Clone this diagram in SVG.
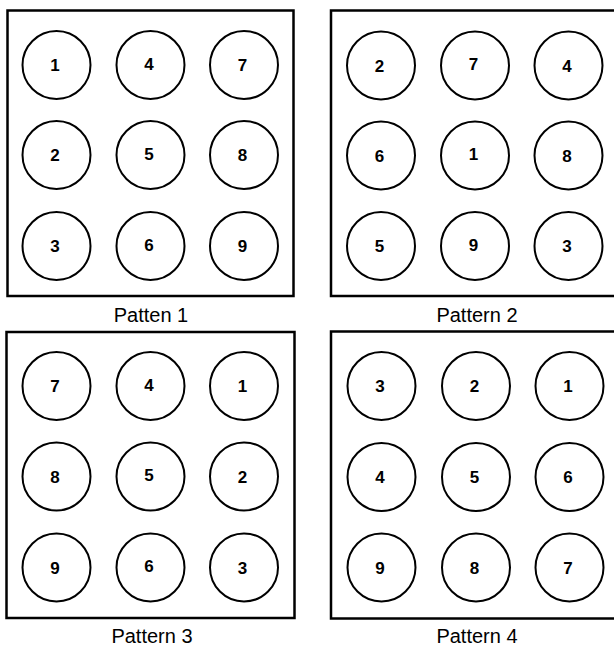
<svg xmlns="http://www.w3.org/2000/svg" width="614" height="646" viewBox="0 0 614 646">
<style>
.box{fill:none;stroke:#000;stroke-width:2.5}
.c{fill:#fff;stroke:#000;stroke-width:2}
.n{font-family:"Liberation Sans",Arial,sans-serif;font-weight:bold;font-size:17px;text-anchor:middle;fill:#000}
.lbl{font-family:"Liberation Sans",Arial,sans-serif;font-size:20px;text-anchor:middle;fill:#000}
</style>
<rect width="614" height="646" fill="#fff"/>
<g id="panel1">
<rect class="box" x="7.5" y="10.5" width="286" height="285.5"/>
<g id="p1-n1"><circle class="c" cx="56.5" cy="65" r="34"/><text class="n" x="55" y="71">1</text></g>
<g id="p1-n4"><circle class="c" cx="150.5" cy="65" r="34"/><text class="n" x="149" y="69.5">4</text></g>
<g id="p1-n7"><circle class="c" cx="244" cy="65" r="34"/><text class="n" x="242.5" y="71">7</text></g>
<g id="p1-n2"><circle class="c" cx="56.5" cy="155" r="34"/><text class="n" x="55" y="161">2</text></g>
<g id="p1-n5"><circle class="c" cx="150.5" cy="155" r="34"/><text class="n" x="149" y="159.5">5</text></g>
<g id="p1-n8"><circle class="c" cx="244" cy="155" r="34"/><text class="n" x="242.5" y="161">8</text></g>
<g id="p1-n3"><circle class="c" cx="56.5" cy="246" r="34"/><text class="n" x="55" y="252">3</text></g>
<g id="p1-n6"><circle class="c" cx="150.5" cy="246" r="34"/><text class="n" x="149" y="250.5">6</text></g>
<g id="p1-n9"><circle class="c" cx="244" cy="246" r="34"/><text class="n" x="242.5" y="252">9</text></g>
<text class="lbl" x="151" y="322">Patten 1</text>
</g>
<g id="panel2">
<rect class="box" x="331" y="10.5" width="290" height="285.5"/>
<g id="p2-n2"><circle class="c" cx="381" cy="65.5" r="34"/><text class="n" x="379.5" y="71.5">2</text></g>
<g id="p2-n7"><circle class="c" cx="475" cy="65.5" r="34"/><text class="n" x="473.5" y="70">7</text></g>
<g id="p2-n4"><circle class="c" cx="568.5" cy="65.5" r="34"/><text class="n" x="567" y="71.5">4</text></g>
<g id="p2-n6"><circle class="c" cx="381" cy="155.5" r="34"/><text class="n" x="379.5" y="161.5">6</text></g>
<g id="p2-n1"><circle class="c" cx="475" cy="155.5" r="34"/><text class="n" x="473.5" y="160">1</text></g>
<g id="p2-n8"><circle class="c" cx="568.5" cy="155.5" r="34"/><text class="n" x="567" y="161.5">8</text></g>
<g id="p2-n5"><circle class="c" cx="381" cy="246" r="34"/><text class="n" x="379.5" y="252">5</text></g>
<g id="p2-n9"><circle class="c" cx="475" cy="246" r="34"/><text class="n" x="473.5" y="250.5">9</text></g>
<g id="p2-n3"><circle class="c" cx="568.5" cy="246" r="34"/><text class="n" x="567" y="252">3</text></g>
<text class="lbl" x="477" y="322">Pattern 2</text>
</g>
<g id="panel3">
<rect class="box" x="6.5" y="332" width="288" height="286"/>
<g id="p3-n7"><circle class="c" cx="56.5" cy="386" r="34"/><text class="n" x="55" y="392">7</text></g>
<g id="p3-n4"><circle class="c" cx="150.5" cy="386" r="34"/><text class="n" x="149" y="390.5">4</text></g>
<g id="p3-n1"><circle class="c" cx="244" cy="386" r="34"/><text class="n" x="242.5" y="392">1</text></g>
<g id="p3-n8"><circle class="c" cx="56.5" cy="476.5" r="34"/><text class="n" x="55" y="482.5">8</text></g>
<g id="p3-n5"><circle class="c" cx="150.5" cy="476.5" r="34"/><text class="n" x="149" y="481">5</text></g>
<g id="p3-n2"><circle class="c" cx="244" cy="476.5" r="34"/><text class="n" x="242.5" y="482.5">2</text></g>
<g id="p3-n9"><circle class="c" cx="56.5" cy="567.5" r="34"/><text class="n" x="55" y="573.5">9</text></g>
<g id="p3-n6"><circle class="c" cx="150.5" cy="567.5" r="34"/><text class="n" x="149" y="572">6</text></g>
<g id="p3-n3"><circle class="c" cx="244" cy="567.5" r="34"/><text class="n" x="242.5" y="573.5">3</text></g>
<text class="lbl" x="152" y="643">Pattern 3</text>
</g>
<g id="panel4">
<rect class="box" x="331" y="331.5" width="290" height="287"/>
<g id="p4-n3"><circle class="c" cx="381.5" cy="386" r="34"/><text class="n" x="380" y="392">3</text></g>
<g id="p4-n2"><circle class="c" cx="476" cy="386" r="34"/><text class="n" x="474.5" y="392">2</text></g>
<g id="p4-n1"><circle class="c" cx="569.5" cy="386" r="34"/><text class="n" x="568" y="392">1</text></g>
<g id="p4-n4"><circle class="c" cx="381.5" cy="477" r="34"/><text class="n" x="380" y="483">4</text></g>
<g id="p4-n5"><circle class="c" cx="476" cy="477" r="34"/><text class="n" x="474.5" y="483">5</text></g>
<g id="p4-n6"><circle class="c" cx="569.5" cy="477" r="34"/><text class="n" x="568" y="483">6</text></g>
<g id="p4-n9"><circle class="c" cx="381.5" cy="567.5" r="34"/><text class="n" x="380" y="573.5">9</text></g>
<g id="p4-n8"><circle class="c" cx="476" cy="567.5" r="34"/><text class="n" x="474.5" y="573.5">8</text></g>
<g id="p4-n7"><circle class="c" cx="569.5" cy="567.5" r="34"/><text class="n" x="568" y="573.5">7</text></g>
<text class="lbl" x="477" y="643">Pattern 4</text>
</g>
<g id="connectors"></g>
</svg>
